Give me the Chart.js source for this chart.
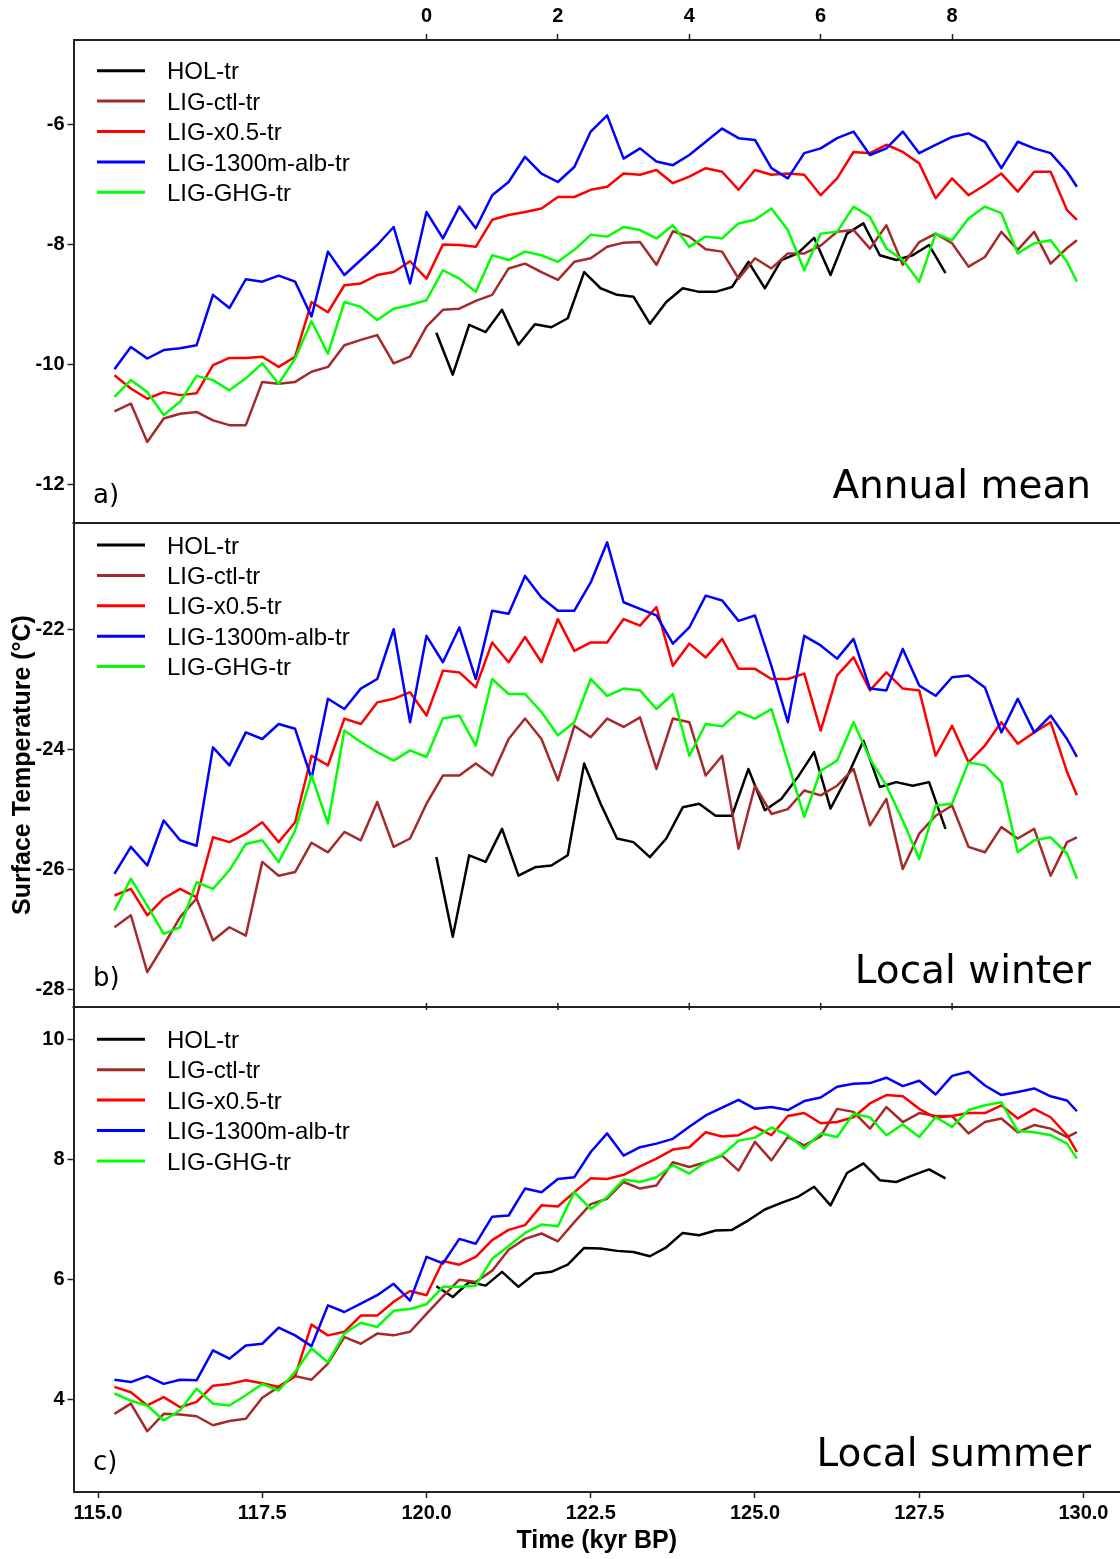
<!DOCTYPE html>
<html>
<head>
<meta charset="utf-8">
<title>Surface temperature, HOL and LIG transient runs</title>
<script src="https://cdn.jsdelivr.net/npm/chart.js@4.4.1/dist/chart.umd.min.js"></script>
<style>
    html, body { margin: 0; padding: 0; background: #fff; }
    #page { position: relative; width: 1120px; height: 1559px; overflow: hidden; }
    canvas { position: absolute; left: 0; }
</style>
</head>
<body>
<div id="page">
    <!-- canvases overlap by 20px so the y tick labels get their room outside the plot -->
    <canvas id="panelA" width="1120" height="543" style="top:0px"></canvas>
    <canvas id="panelB" width="1120" height="524" style="top:503px"></canvas>
    <canvas id="panelC" width="1120" height="572" style="top:987px"></canvas>
</div>
<script>
// Time axis (kyr BP) for the LIG runs, HOL runs use the top axis (kyr)
const LIG_T = [115.25, 115.5, 115.75, 116, 116.25, 116.5, 116.75, 117, 117.25, 117.5,
    117.75, 118, 118.25, 118.5, 118.75, 119, 119.25, 119.5, 119.75, 120,
    120.25, 120.5, 120.75, 121, 121.25, 121.5, 121.75, 122, 122.25, 122.5,
    122.75, 123, 123.25, 123.5, 123.75, 124, 124.25, 124.5, 124.75, 125,
    125.25, 125.5, 125.75, 126, 126.25, 126.5, 126.75, 127, 127.25, 127.5,
    127.75, 128, 128.25, 128.5, 128.75, 129, 129.25, 129.5, 129.75, 129.9];
const HOL_T = [0.15, 0.4, 0.65, 0.9, 1.15, 1.4, 1.65, 1.9, 2.15, 2.4, 2.65, 2.9, 3.15, 3.4, 3.65, 3.9,
    4.15, 4.4, 4.65, 4.9, 5.15, 5.4, 5.65, 5.9, 6.15, 6.4, 6.65, 6.9, 7.15, 7.4, 7.65, 7.9];

const SERIES_NAMES = ['HOL-tr', 'LIG-ctl-tr', 'LIG-x0.5-tr', 'LIG-1300m-alb-tr', 'LIG-GHG-tr'];

const X_TICKS = [115, 117.5, 120, 122.5, 125, 127.5, 130];
const HOL_TICKS = [0, 2, 4, 6, 8];
const A_TICKS = [-12, -10, -8, -6];
const B_TICKS = [-28, -26, -24, -22];
const C_TICKS = [4, 6, 8, 10];

// a) Annual mean
const A_HOL = [-9.47, -10.17, -9.34, -9.46, -9.09, -9.67, -9.33, -9.38, -9.23, -8.46, -8.73, -8.84, -8.87, -9.32, -8.96, -8.73,
    -8.79, -8.79, -8.71, -8.29, -8.73, -8.26, -8.15, -7.89, -8.51, -7.82, -7.65, -8.18, -8.26, -8.18, -8.01, -8.48];
const A_CTL = [-10.78, -10.65, -11.29, -10.90, -10.82, -10.79, -10.93, -11.01, -11.01, -10.29,
    -10.32, -10.29, -10.12, -10.04, -9.68, -9.59, -9.51, -9.98, -9.87, -9.37,
    -9.09, -9.07, -8.94, -8.84, -8.40, -8.32, -8.46, -8.59, -8.29, -8.23,
    -8.04, -7.97, -7.96, -8.34, -7.78, -7.87, -8.08, -8.12, -8.57, -8.23,
    -8.40, -8.15, -8.15, -8.02, -7.79, -7.76, -8.07, -7.68, -8.34, -7.96,
    -7.82, -7.98, -8.37, -8.21, -7.79, -8.09, -7.79, -8.32, -8.06, -7.93];
const A_X05 = [-10.18, -10.40, -10.57, -10.46, -10.51, -10.48, -10.01, -9.89, -9.89, -9.87,
    -10.04, -9.87, -8.96, -9.13, -8.68, -8.65, -8.51, -8.46, -8.28, -8.57,
    -8.00, -8.01, -8.04, -7.59, -7.51, -7.46, -7.40, -7.21, -7.21, -7.09,
    -7.04, -6.82, -6.84, -6.76, -6.98, -6.87, -6.73, -6.79, -7.09, -6.76,
    -6.84, -6.82, -6.84, -7.18, -6.90, -6.46, -6.48, -6.34, -6.46, -6.65,
    -7.23, -6.90, -7.18, -7.01, -6.82, -7.12, -6.79, -6.79, -7.43, -7.59];
const A_ALB = [-10.08, -9.71, -9.90, -9.76, -9.73, -9.68, -8.84, -9.06, -8.58, -8.62,
    -8.52, -8.62, -9.20, -8.12, -8.51, -8.26, -8.01, -7.71, -8.65, -7.46,
    -7.90, -7.37, -7.73, -7.18, -6.96, -6.54, -6.82, -6.96, -6.71, -6.12,
    -5.85, -6.57, -6.40, -6.62, -6.68, -6.51, -6.29, -6.07, -6.23, -6.26,
    -6.73, -6.90, -6.48, -6.40, -6.23, -6.12, -6.51, -6.40, -6.12, -6.48,
    -6.34, -6.21, -6.15, -6.29, -6.73, -6.29, -6.40, -6.48, -6.79, -7.04];
const A_GHG = [-10.54, -10.26, -10.46, -10.84, -10.62, -10.19, -10.26, -10.43, -10.23, -9.98,
    -10.32, -9.90, -9.28, -9.82, -8.96, -9.04, -9.26, -9.07, -9.01, -8.93,
    -8.43, -8.57, -8.79, -8.18, -8.26, -8.12, -8.18, -8.29, -8.09, -7.84,
    -7.87, -7.71, -7.76, -7.90, -7.68, -8.04, -7.87, -7.90, -7.65, -7.59,
    -7.40, -7.76, -8.43, -7.82, -7.79, -7.37, -7.54, -8.07, -8.26, -8.62,
    -7.82, -7.93, -7.57, -7.37, -7.48, -8.15, -7.98, -7.93, -8.29, -8.62];

// b) Local winter
const B_HOL = [-25.80, -27.13, -25.77, -25.88, -25.33, -26.11, -25.97, -25.94, -25.77, -24.24, -24.91, -25.49, -25.55, -25.80, -25.49, -24.97,
    -24.91, -25.11, -25.11, -24.33, -25.02, -24.83, -24.47, -24.05, -24.99, -24.47, -23.86, -24.63, -24.55, -24.61, -24.55, -25.33];
const B_CTL = [-26.97, -26.77, -27.72, -27.27, -26.80, -26.49, -27.19, -26.97, -27.11, -25.88,
    -26.11, -26.05, -25.56, -25.72, -25.38, -25.52, -24.88, -25.63, -25.49, -24.91,
    -24.44, -24.44, -24.24, -24.44, -23.83, -23.49, -23.83, -24.52, -23.61, -23.80,
    -23.49, -23.63, -23.47, -24.33, -23.49, -23.55, -24.44, -24.11, -25.66, -24.61,
    -25.08, -25.00, -24.69, -24.77, -24.61, -24.33, -25.27, -24.83, -26.00, -25.41,
    -25.11, -24.94, -25.63, -25.72, -25.30, -25.49, -25.33, -26.11, -25.55, -25.47];
const B_X05 = [-26.44, -26.33, -26.77, -26.49, -26.33, -26.47, -25.47, -25.55, -25.41, -25.22,
    -25.55, -25.22, -24.11, -24.27, -23.49, -23.58, -23.22, -23.16, -23.05, -23.44,
    -22.69, -22.72, -22.97, -22.22, -22.55, -22.13, -22.55, -21.83, -22.36, -22.22,
    -22.22, -21.83, -21.94, -21.63, -22.61, -22.24, -22.47, -22.16, -22.66, -22.66,
    -22.83, -22.83, -22.74, -23.69, -22.77, -22.47, -23.02, -22.72, -22.99, -23.02,
    -24.11, -23.61, -24.22, -23.94, -23.55, -23.91, -23.72, -23.55, -24.38, -24.77];
const B_ALB = [-26.08, -25.63, -25.94, -25.19, -25.52, -25.61, -23.97, -24.27, -23.72, -23.83,
    -23.58, -23.66, -24.49, -23.16, -23.33, -22.99, -22.83, -22.00, -23.55, -22.11,
    -22.55, -21.97, -22.83, -21.69, -21.74, -21.11, -21.47, -21.69, -21.69, -21.22,
    -20.55, -21.55, -21.66, -21.77, -22.24, -21.97, -21.44, -21.52, -21.86, -21.77,
    -22.61, -23.55, -22.11, -22.27, -22.49, -22.16, -22.99, -23.02, -22.33, -22.94,
    -23.11, -22.80, -22.77, -22.97, -23.72, -23.16, -23.72, -23.44, -23.83, -24.13];
const B_GHG = [-26.69, -26.16, -26.61, -27.08, -26.97, -26.22, -26.33, -26.02, -25.58, -25.52,
    -25.88, -25.36, -24.44, -25.24, -23.69, -23.88, -24.05, -24.19, -24.02, -24.13,
    -23.49, -23.44, -23.94, -22.83, -23.08, -23.08, -23.38, -23.77, -23.55, -22.83,
    -23.11, -22.99, -23.02, -23.33, -23.08, -24.11, -23.58, -23.62, -23.38, -23.49,
    -23.33, -24.22, -25.13, -24.36, -24.19, -23.55, -24.16, -24.61, -25.19, -25.83,
    -24.94, -24.91, -24.22, -24.27, -24.55, -25.72, -25.52, -25.47, -25.74, -26.16];

// c) Local summer
const C_HOL = [5.89, 5.71, 5.96, 5.90, 6.13, 5.88, 6.10, 6.13, 6.25, 6.53, 6.52, 6.48, 6.46, 6.39, 6.54, 6.78,
    6.74, 6.82, 6.83, 6.99, 7.17, 7.28, 7.38, 7.55, 7.24, 7.78, 7.94, 7.66, 7.63, 7.74, 7.84, 7.69];
const C_CTL = [3.76, 3.93, 3.47, 3.76, 3.75, 3.72, 3.57, 3.64, 3.68, 4.03,
    4.21, 4.39, 4.33, 4.60, 5.04, 4.93, 5.10, 5.07, 5.13, 5.43,
    5.72, 6.00, 5.96, 6.15, 6.50, 6.68, 6.77, 6.64, 6.96, 7.26,
    7.35, 7.63, 7.52, 7.57, 7.96, 7.88, 7.96, 8.07, 7.82, 8.30,
    7.99, 8.38, 8.24, 8.39, 8.85, 8.80, 8.52, 8.88, 8.63, 8.78,
    8.73, 8.73, 8.44, 8.63, 8.69, 8.46, 8.58, 8.52, 8.38, 8.46];
const C_X05 = [4.21, 4.12, 3.90, 4.04, 3.87, 3.96, 4.23, 4.26, 4.32, 4.27,
    4.21, 4.39, 5.25, 5.07, 5.13, 5.40, 5.40, 5.63, 5.81, 5.74,
    6.31, 6.25, 6.38, 6.66, 6.83, 6.91, 7.24, 7.22, 7.46, 7.69,
    7.68, 7.75, 7.89, 8.02, 8.17, 8.21, 8.46, 8.39, 8.41, 8.55,
    8.41, 8.73, 8.78, 8.61, 8.63, 8.71, 8.94, 9.08, 9.06, 8.85,
    8.70, 8.73, 8.78, 8.78, 8.91, 8.69, 8.85, 8.71, 8.41, 8.13];
const C_ALB = [4.33, 4.29, 4.39, 4.26, 4.33, 4.32, 4.82, 4.68, 4.90, 4.93,
    5.20, 5.07, 4.89, 5.57, 5.46, 5.60, 5.74, 5.93, 5.65, 6.38,
    6.27, 6.68, 6.60, 7.05, 7.07, 7.52, 7.46, 7.68, 7.71, 8.13,
    8.44, 8.07, 8.21, 8.27, 8.35, 8.55, 8.74, 8.87, 9.00, 8.85,
    8.88, 8.83, 8.98, 9.04, 9.22, 9.27, 9.28, 9.37, 9.23, 9.32,
    9.09, 9.40, 9.47, 9.24, 9.08, 9.13, 9.19, 9.06, 8.99, 8.81];
const C_GHG = [4.10, 3.98, 3.90, 3.65, 3.82, 4.18, 3.93, 3.90, 4.07, 4.26,
    4.15, 4.46, 4.85, 4.62, 5.10, 5.28, 5.21, 5.48, 5.51, 5.59,
    5.88, 5.88, 5.90, 6.35, 6.56, 6.78, 6.92, 6.89, 7.46, 7.18,
    7.38, 7.67, 7.63, 7.71, 7.91, 7.77, 7.96, 8.08, 8.32, 8.37,
    8.54, 8.41, 8.19, 8.44, 8.38, 8.77, 8.71, 8.41, 8.59, 8.38,
    8.71, 8.55, 8.83, 8.91, 8.96, 8.48, 8.46, 8.41, 8.27, 8.02];

const COLORS = ['#000000', '#a52a2a', '#ff0000', '#0000ff', '#00ff00'];
const AXIS_COLOR = '#222';
const TICK_FONT = { family: '"Liberation Sans", Arial, sans-serif', size: 20, weight: 'bold' };

// legend, panel letter, panel title, separators
const panelDecor = {
    id: 'panelDecor',
    afterDraw(chart, args, opts) {
        const ctx = chart.ctx;
        const area = chart.chartArea;
        ctx.save();

        if (opts.bottomLine) {
            ctx.strokeStyle = AXIS_COLOR;
            ctx.lineWidth = 2;
            ctx.beginPath();
            ctx.moveTo(area.left - 1, area.bottom);
            ctx.lineTo(area.right, area.bottom);
            ctx.stroke();
        }

        // little HOL ticks on the b/c boundary
        if (opts.holTicks) {
            const x2 = chart.scales.x2;
            ctx.strokeStyle = AXIS_COLOR;
            ctx.lineWidth = 1.5;
            HOL_TICKS.forEach((v) => {
                const x = x2.getPixelForValue(v);
                ctx.beginPath();
                if (opts.holTicks === 'bottom') {
                    ctx.moveTo(x, area.bottom - 1);
                    ctx.lineTo(x, area.bottom - 4);
                } else {
                    ctx.moveTo(x, area.top + 1);
                    ctx.lineTo(x, area.top + 3);
                }
                ctx.stroke();
            });
        }

        // legend
        ctx.font = '24px "Liberation Sans", Arial, sans-serif';
        ctx.textBaseline = 'middle';
        ctx.textAlign = 'left';
        chart.data.datasets.forEach((ds, i) => {
            const y = area.top + opts.legendTop + i * 30.4;
            ctx.strokeStyle = ds.borderColor;
            ctx.lineWidth = 3;
            ctx.beginPath();
            ctx.moveTo(97, y);
            ctx.lineTo(145, y);
            ctx.stroke();
            ctx.fillStyle = '#000';
            ctx.fillText(ds.label, 167, y + 2);
        });

        ctx.textBaseline = 'alphabetic';
        ctx.fillStyle = '#000';
        ctx.font = '26px "DejaVu Sans", sans-serif';
        ctx.fillText(opts.letter, 93, area.top + 463);

        ctx.font = '39px "DejaVu Sans", sans-serif';
        ctx.textAlign = 'right';
        ctx.fillText(opts.title, 1091, area.top + opts.titleBase);
        ctx.restore();
    }
};

function lineSet(label, color, order, xs, ys, xAxisID) {
    return {
        label: label,
        data: xs.map((x, i) => ({ x: x, y: ys[i] })),
        xAxisID: xAxisID,
        yAxisID: 'y',
        borderColor: color,
        borderWidth: 2.5,
        borderJoinStyle: 'round',
        pointRadius: 0,
        fill: false,
        tension: 0,
        order: order
    };
}

function makePanel(canvasId, series, yMin, yMax, yTicks, cfg) {
    const ctx = document.getElementById(canvasId).getContext('2d');
    const datasets = [
        lineSet(SERIES_NAMES[0], COLORS[0], 5, HOL_T, series[0], 'x2'),
        lineSet(SERIES_NAMES[1], COLORS[1], 4, LIG_T, series[1], 'x'),
        lineSet(SERIES_NAMES[2], COLORS[2], 3, LIG_T, series[2], 'x'),
        lineSet(SERIES_NAMES[3], COLORS[3], 2, LIG_T, series[3], 'x'),
        lineSet(SERIES_NAMES[4], COLORS[4], 1, LIG_T, series[4], 'x')
    ];

    return new Chart(ctx, {
        type: 'line',
        data: { datasets: datasets },
        plugins: [panelDecor],
        options: {
            responsive: false,
            animation: false,
            devicePixelRatio: 1,
            layout: { padding: { top: cfg.padTop, bottom: cfg.padBottom, left: 0, right: 0 } },
            plugins: {
                legend: { display: false },
                tooltip: { enabled: false },
                panelDecor: cfg.decor
            },
            scales: {
                x: {
                    type: 'linear',
                    position: 'bottom',
                    display: cfg.showBottom,
                    min: 114.627,
                    max: 130.556,
                    afterBuildTicks: (s) => { s.ticks = X_TICKS.map((v) => ({ value: v })); },
                    afterFit: (s) => { s.height = cfg.showBottom ? 67 : 0; },
                    ticks: {
                        font: TICK_FONT,
                        color: '#000',
                        padding: 3,
                        maxRotation: 0,
                        autoSkip: false,
                        callback: (v) => Number(v).toFixed(1)
                    },
                    grid: { drawOnChartArea: false, tickLength: 6, tickColor: AXIS_COLOR, tickWidth: 1.5 },
                    border: { display: true, color: AXIS_COLOR, width: 2 },
                    title: {
                        display: cfg.showBottom,
                        text: 'Time (kyr BP)',
                        color: '#000',
                        font: { family: '"Liberation Sans", Arial, sans-serif', size: 25, weight: 'bold' },
                        padding: { top: 0, bottom: 3 }
                    }
                },
                x2: {
                    type: 'linear',
                    position: 'top',
                    display: cfg.showTop,
                    min: 114.627 - 120,
                    max: 130.556 - 120,
                    afterBuildTicks: (s) => { s.ticks = HOL_TICKS.map((v) => ({ value: v })); },
                    afterFit: (s) => { s.height = cfg.showTop ? 40 : 0; },
                    ticks: {
                        font: TICK_FONT,
                        color: '#000',
                        padding: 6,
                        maxRotation: 0,
                        autoSkip: false,
                        callback: (v) => String(v)
                    },
                    grid: { drawOnChartArea: false, tickLength: 6, tickColor: AXIS_COLOR, tickWidth: 1.5 },
                    border: { display: true, color: AXIS_COLOR, width: 2 }
                },
                y: {
                    type: 'linear',
                    position: 'left',
                    min: yMin,
                    max: yMax,
                    afterBuildTicks: (s) => { s.ticks = yTicks.map((v) => ({ value: v })); },
                    afterFit: (s) => { s.width = 73.5; },
                    ticks: {
                        font: TICK_FONT,
                        color: '#000',
                        padding: 3,
                        autoSkip: false,
                        callback: (v) => String(v)
                    },
                    grid: { drawOnChartArea: false, tickLength: 6, tickColor: AXIS_COLOR, tickWidth: 1.5 },
                    border: { display: true, color: AXIS_COLOR, width: 2 },
                    title: {
                        display: cfg.showYTitle,
                        text: 'Surface Temperature (°C)',
                        color: '#000',
                        font: { family: '"Liberation Sans", Arial, sans-serif', size: 25, weight: 'bold' },
                        padding: { top: 8, bottom: 0 }
                    }
                }
            }
        }
    });
}

makePanel('panelA', [A_HOL, A_CTL, A_X05, A_ALB, A_GHG], -12.64, -4.595, A_TICKS, {
    showTop: true, showBottom: false, showYTitle: false, padTop: 0, padBottom: 20,
    decor: { letter: 'a)', title: 'Annual mean', titleBase: 458, legendTop: 30.7, bottomLine: true }
});
makePanel('panelB', [B_HOL, B_CTL, B_X05, B_ALB, B_GHG], -28.3, -20.228, B_TICKS, {
    showTop: false, showBottom: false, showYTitle: true, padTop: 20, padBottom: 20,
    decor: { letter: 'b)', title: 'Local winter', titleBase: 460, legendTop: 22, bottomLine: true, holTicks: 'bottom' }
});
makePanel('panelC', [C_HOL, C_CTL, C_X05, C_ALB, C_GHG], 2.456, 10.55, C_TICKS, {
    showTop: false, showBottom: true, showYTitle: false, padTop: 20, padBottom: 0,
    decor: { letter: 'c)', title: 'Local summer', titleBase: 459, legendTop: 32.3, bottomLine: false, holTicks: 'top' }
});
</script>
</body>
</html>
